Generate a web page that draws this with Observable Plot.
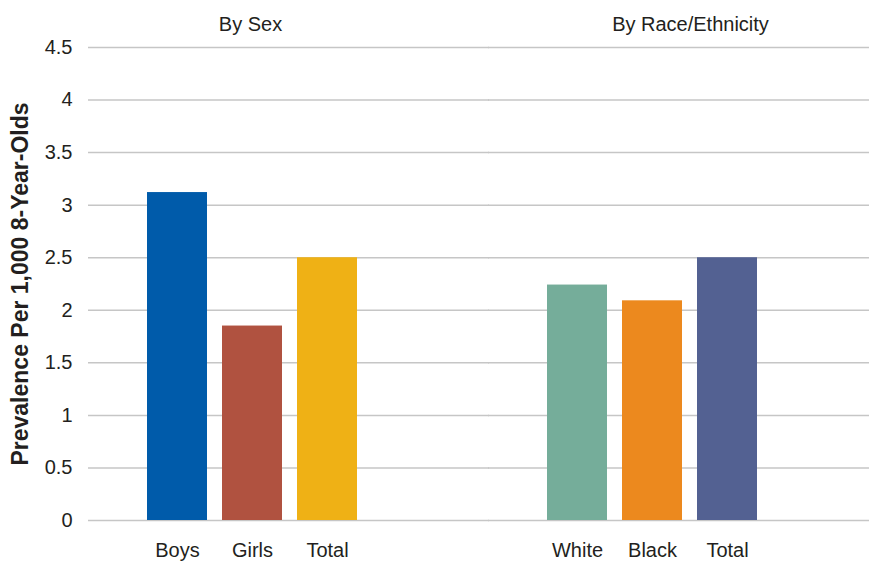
<!DOCTYPE html>
<html><head><meta charset="utf-8">
<script src="https://cdn.jsdelivr.net/npm/d3@7"></script>
<script src="https://cdn.jsdelivr.net/npm/@observablehq/plot@0.6"></script>
<style>body{margin:0;background:#fff;}</style>
</head><body><div id="chart"></div>
<script>
const groups = ["By Sex", "By Race/Ethnicity"];
const categories = ["Boys", "Girls", "Total", "White", "Black", "Total"];
const categoryGroup = ["By Sex", "By Sex", "By Sex", "By Race/Ethnicity", "By Race/Ethnicity", "By Race/Ethnicity"];
const slots = ["1", "2", "3", "1", "2", "3"];
const values = [3.12, 1.85, 2.5, 2.24, 2.09, 2.5];
const colors = ["#005BAA", "#B05240", "#EFB115", "#75AD9A", "#EC891E", "#536192"];
const yTicks = [0, 0.5, 1, 1.5, 2, 2.5, 3, 3.5, 4, 4.5];
const yLabel = "Prevalence Per 1,000 8-Year-Olds";

const data = categories.map((c, i) => ({
  category: c, group: categoryGroup[i], slot: slots[i], value: values[i], color: colors[i]
}));

const font = "'Liberation Sans', Arial, sans-serif";
const ink = "#231f20";
const gridStyle = {stroke: "#c6c6c6", strokeOpacity: 1, strokeWidth: 1.5};

const chart = Plot.plot({
  width: 869, height: 561,
  marginLeft: 88, marginRight: 0, marginTop: 47, marginBottom: 41,
  style: {fontFamily: font, fontSize: "20px", color: ink, background: "#fff"},
  fx: {domain: groups, paddingInner: 0.0475, paddingOuter: 0, axis: null},
  x: {domain: ["1", "2", "3"], paddingInner: 0.2053, paddingOuter: 1.1259, align: 0.344, axis: null},
  y: {domain: [0, 4.5]},
  color: {type: "identity"},
  marks: [
    Plot.gridY(yTicks, {fx: () => groups[0], insetRight: -20, ...gridStyle}),
    Plot.gridY(yTicks, {fx: () => groups[1], ...gridStyle}),
    Plot.axisY(yTicks, {facetAnchor: "left", tickSize: 0, tickPadding: 16, tickFormat: d => String(d), fontSize: 20, fill: ink, label: null}),
    Plot.barY(data, {fx: "group", x: "slot", y: "value", fill: "color"}),
    Plot.text(data, {fx: "group", x: "slot", text: "category", frameAnchor: "bottom", lineAnchor: "middle", dy: 30, fontSize: 20, fill: ink}),
    Plot.text([groups[0]], {fx: d => d, x: () => "2", frameAnchor: "top", lineAnchor: "middle", dy: -23, dx: -2, fontSize: 20, fill: ink}),
    Plot.text([groups[1]], {fx: d => d, x: () => "2", frameAnchor: "top", lineAnchor: "middle", dy: -23, dx: 38, fontSize: 20, fill: ink}),
    Plot.text([yLabel], {fx: () => groups[0], frameAnchor: "left", textAnchor: "middle", lineAnchor: "middle", dx: -68, rotate: -90, fontSize: 23, fontWeight: "bold", fill: ink})
  ]
});
document.getElementById("chart").appendChild(chart);
</script>
</body></html>
